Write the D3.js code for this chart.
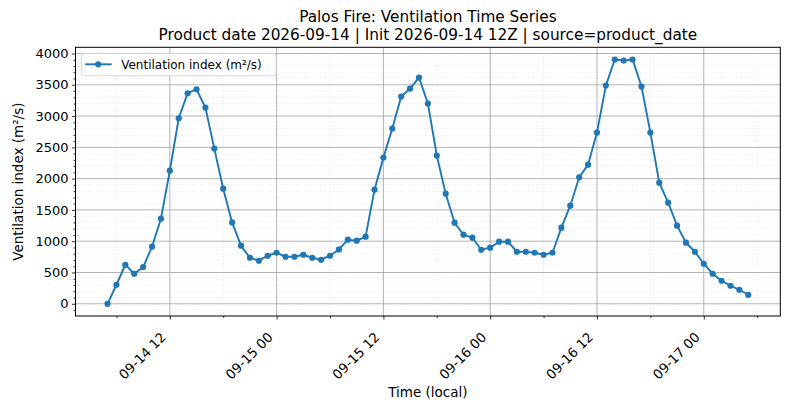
<!DOCTYPE html>
<html>
<head>
<meta charset="utf-8">
<script src="https://cdn.jsdelivr.net/npm/d3@7"></script>
<style>
  body { margin: 0; background: #fff; }
  svg, svg text { font-family: "DejaVu Sans", sans-serif; }
</style>
</head>
<body>
<div id="graph"></div>
<script>
// hourly ventilation index, local time, starting 09-14 05:00
let startTime = '2026-09-14T05:00:00'
let ventilation = [
    0, 304, 624, 480, 587, 912, 1360, 2128, 2965, 3365, 3429, 3136, 2480, 1840, 1301, 928,
    736, 688, 768, 816, 752, 752, 784, 736, 704, 768, 869, 1024, 1008, 1072, 1824, 2336,
    2800, 3312, 3440, 3616, 3200, 2368, 1760, 1296, 1104, 1056, 864, 896, 992, 992, 832, 832,
    816, 784, 816, 1216, 1568, 2021, 2224, 2736, 3488, 3904, 3888, 3904, 3472, 2736, 1936, 1616,
    1248, 976, 832, 640, 480, 368, 288, 224, 144
]
let yTicks = [0, 500, 1000, 1500, 2000, 2500, 3000, 3500, 4000]
let titleLines = [
    'Palos Fire: Ventilation Time Series',
    'Product date 2026-09-14 | Init 2026-09-14 12Z | source=product_date'
]
let seriesLabel = 'Ventilation index (m²/s)'
let xLabel = 'Time (local)'
let yLabel = 'Ventilation index (m²/s)'

let t0 = new Date(startTime)
let data = ventilation.map((v, i) => ({ t: d3.timeHour.offset(t0, i), v: v }))

let width = 790, height = 409
let margin = { top: 47.3, right: 790 - 780.3, bottom: 409 - 316, left: 75.5 }
let innerW = width - margin.left - margin.right,
    innerH = height - margin.top - margin.bottom

let svg = d3.select('#graph').append('svg')
    .attr('width', width)
    .attr('height', height)

// matplotlib-style 5% margins
let tExt = d3.extent(data, d => d.t)
let pad = (tExt[1] - tExt[0]) * 0.05
let x = d3.scaleTime()
    .domain([new Date(+tExt[0] - pad), new Date(+tExt[1] + pad)])
    .range([0, innerW])
let vMax = d3.max(ventilation), vMin = d3.min(ventilation)
let vPad = (vMax - vMin) * 0.05
let y = d3.scaleLinear()
    .domain([vMin - vPad, vMax + vPad])
    .range([innerH, 0])

let g = svg.append('g').attr('transform', `translate(${margin.left},${margin.top})`)

let majorX = d3.timeHour.every(12).range(x.domain()[0], x.domain()[1])
let minorX = d3.timeHour.every(6).range(x.domain()[0], x.domain()[1]).filter(d => d.getHours() % 12 != 0)
let minorY = d3.range(-100, 4100, 100).filter(v => v % 500 != 0 && v > y.domain()[0] && v < y.domain()[1])

// minor grid
g.append('g').selectAll('line').data(minorY).join('line')
    .attr('x1', 0).attr('x2', innerW)
    .attr('y1', d => y(d)).attr('y2', d => y(d))
    .attr('stroke', '#d9d9d9').attr('stroke-width', 0.6).attr('stroke-dasharray', '1,1.6')
g.append('g').selectAll('line').data(minorX).join('line')
    .attr('x1', d => x(d)).attr('x2', d => x(d))
    .attr('y1', 0).attr('y2', innerH)
    .attr('stroke', '#d9d9d9').attr('stroke-width', 0.6).attr('stroke-dasharray', '1,1.6')

// major grid
g.append('g').selectAll('line').data(yTicks).join('line')
    .attr('x1', 0).attr('x2', innerW)
    .attr('y1', d => y(d)).attr('y2', d => y(d))
    .attr('stroke', '#a0a0a0').attr('stroke-width', 0.8)
g.append('g').selectAll('line').data(majorX).join('line')
    .attr('x1', d => x(d)).attr('x2', d => x(d))
    .attr('y1', 0).attr('y2', innerH)
    .attr('stroke', '#a0a0a0').attr('stroke-width', 0.8)

// the series
let line = d3.line().x(d => x(d.t)).y(d => y(d.v))
g.append('path').datum(data)
    .attr('d', line)
    .attr('fill', 'none')
    .attr('stroke', '#1f77b4')
    .attr('stroke-width', 1.9)
g.append('g').selectAll('circle').data(data).join('circle')
    .attr('cx', d => x(d.t)).attr('cy', d => y(d.v))
    .attr('r', 3.1)
    .attr('fill', '#1f77b4')

// axes
let fmt = d3.timeFormat('%m-%d %H')
let xAxis = g.append('g').attr('transform', `translate(0,${innerH})`)
    .call(d3.axisBottom(x).tickValues(majorX).tickFormat(fmt).tickSize(3.5).tickPadding(2))
xAxis.attr('font-family', null).attr('font-size', null)
xAxis.selectAll('text')
    .attr('font-size', 13.3)
    .attr('fill', '#000')
    .attr('text-anchor', 'end')
    .attr('transform', 'translate(-3.5,22) rotate(-45)')
    .attr('dy', 0)
    .attr('y', 0).attr('x', 0)
g.append('g').attr('transform', `translate(0,${innerH})`)
    .call(d3.axisBottom(x).tickValues(minorX).tickFormat('').tickSize(2))
    .select('.domain').remove()

let yAxis = g.append('g')
    .call(d3.axisLeft(y).tickValues(yTicks).tickFormat(d3.format('d')).tickSize(3.5).tickPadding(3.5))
yAxis.attr('font-family', null).attr('font-size', null)
yAxis.selectAll('text').attr('font-size', 13).attr('fill', '#000')
g.append('g')
    .call(d3.axisLeft(y).tickValues(minorY).tickFormat('').tickSize(2))
    .select('.domain').remove()

g.selectAll('.domain').remove()
g.append('rect')
    .attr('width', innerW).attr('height', innerH)
    .attr('fill', 'none').attr('stroke', '#000').attr('stroke-width', 1)
g.selectAll('.tick line').attr('stroke', '#000').attr('stroke-width', 0.8)

// legend
let legend = g.append('g').attr('transform', 'translate(6.2,6)')
legend.append('rect')
    .attr('width', 194.5).attr('height', 22.5)
    .attr('rx', 2.5)
    .attr('fill', '#fff').attr('fill-opacity', 0.8)
    .attr('stroke', '#cccccc').attr('stroke-width', 0.8)
legend.append('line')
    .attr('x1', 3.5).attr('x2', 30).attr('y1', 11).attr('y2', 11)
    .attr('stroke', '#1f77b4').attr('stroke-width', 1.9)
legend.append('circle').attr('cx', 16.5).attr('cy', 11).attr('r', 3.1).attr('fill', '#1f77b4')
legend.append('text')
    .attr('x', 39.5).attr('y', 15.5)
    .attr('font-size', 12)
    .text(seriesLabel)

// titles and labels
let cx = margin.left + innerW / 2
svg.append('g').selectAll('text').data(titleLines).join('text')
    .attr('x', cx)
    .attr('y', (d, i) => 22 + i * 17.5)
    .attr('text-anchor', 'middle')
    .attr('font-size', 15.3)
    .text(d => d)
svg.append('text')
    .attr('x', cx).attr('y', 397)
    .attr('text-anchor', 'middle')
    .attr('font-size', 13.5)
    .text(xLabel)
svg.append('text')
    .attr('transform', `translate(23,${margin.top + innerH / 2}) rotate(-90)`)
    .attr('text-anchor', 'middle')
    .attr('font-size', 13.5)
    .text(yLabel)
</script>
</body>
</html>
